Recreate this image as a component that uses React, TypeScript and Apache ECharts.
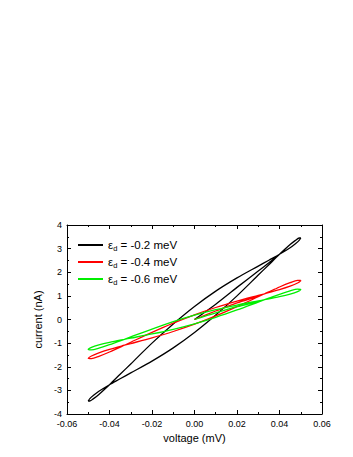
import React, { useEffect, useRef } from "react";
import * as echarts from "echarts";

const epsValues = ["-0.2", "-0.4", "-0.6"];
const seriesColors = ["#000000", "#ff0000", "#00ee00"];

// [voltage (mV), current (nA)]
const blackLoop: number[][] = [
  [0, 0], [0.01, 0.65], [0.02, 1.36], [0.03, 2.05], [0.035, 2.4], [0.04, 2.76],
  [0.045, 3.17], [0.0475, 3.35], [0.04925, 3.45], [0.05, 3.45],
  [0.04925, 3.35], [0.0475, 3.21], [0.045, 3.04], [0.04, 2.76], [0.035, 2.51], [0.03, 2.26],
  [0.02, 1.76], [0.01, 1.2], [0, 0.55], [-0.01, -0.19], [-0.02, -1.0], [-0.03, -1.88],
  [-0.035, -2.32], [-0.04, -2.76], [-0.045, -3.17], [-0.0475, -3.35], [-0.04925, -3.45], [-0.05, -3.45],
  [-0.04925, -3.35], [-0.0475, -3.21], [-0.045, -3.04], [-0.04, -2.76], [-0.035, -2.51], [-0.03, -2.26],
  [-0.02, -1.76], [-0.01, -1.2], [0, -0.55], [0.01, 0.19], [0.02, 1.0], [0.03, 1.88],
  [0.035, 2.32], [0.04, 2.76], [0.045, 3.17], [0.0475, 3.35], [0.04925, 3.45], [0.05, 3.45],
];

const redLoop: number[][] = [
  [0, 0], [0.01, 0.36], [0.02, 0.7], [0.03, 0.98], [0.033, 1.089],
  [0.04, 1.376], [0.045, 1.56], [0.0485, 1.656], [0.05, 1.65],
  [0.0485, 1.544], [0.045, 1.41], [0.04, 1.264], [0.033, 1.089], [0.03, 1.018], [0.02, 0.776],
  [0.01, 0.508], [0, 0.2], [-0.01, -0.152], [-0.02, -0.544], [-0.03, -0.962], [-0.033, -1.089],
  [-0.04, -1.376], [-0.045, -1.56], [-0.0485, -1.656], [-0.05, -1.65],
  [-0.0485, -1.544], [-0.045, -1.41], [-0.04, -1.264], [-0.033, -1.089], [-0.03, -1.018], [-0.02, -0.776],
  [-0.01, -0.508], [0, -0.2], [0.01, 0.152], [0.02, 0.544], [0.03, 0.962], [0.033, 1.089],
  [0.04, 1.376], [0.045, 1.56], [0.0485, 1.656], [0.05, 1.65],
];

const greenLoop: number[][] = [
  [0, 0], [0.01, 0.28], [0.02, 0.54], [0.03, 0.76], [0.033, 0.838],
  [0.04, 1.067], [0.045, 1.211], [0.0485, 1.283], [0.05, 1.27],
  [0.0485, 1.181], [0.045, 1.075], [0.04, 0.965], [0.033, 0.838], [0.03, 0.787], [0.02, 0.612],
  [0.01, 0.414], [0, 0.18], [-0.01, -0.094], [-0.02, -0.404], [-0.03, -0.737], [-0.033, -0.838],
  [-0.04, -1.067], [-0.045, -1.211], [-0.0485, -1.283], [-0.05, -1.27],
  [-0.0485, -1.181], [-0.045, -1.075], [-0.04, -0.965], [-0.033, -0.838], [-0.03, -0.787], [-0.02, -0.612],
  [-0.01, -0.414], [0, -0.18], [0.01, 0.094], [0.02, 0.404], [0.03, 0.737], [0.033, 0.838],
  [0.04, 1.067], [0.045, 1.211], [0.0485, 1.283], [0.05, 1.27],
];

const loops = [blackLoop, redLoop, greenLoop];

const FONT = "Liberation Sans, Arial, sans-serif";

export default function App() {
  const ref = useRef<HTMLDivElement>(null);
  useEffect(() => {
    if (!ref.current) return;
    const chart = echarts.init(ref.current, undefined, { renderer: "svg" });
    const axisCommon = {
      type: "value" as const,
      axisLine: { show: true, onZero: false, lineStyle: { color: "#000", width: 1 } },
      axisTick: { show: true, inside: true, length: 4, lineStyle: { color: "#000" } },
      minorTick: { show: true, splitNumber: 2, length: 2, lineStyle: { color: "#000" } },
      splitLine: { show: false },
    };
    chart.setOption({
      animation: false,
      backgroundColor: "#fff",
      grid: { left: 67, right: 31, top: 225, bottom: 43, containLabel: false },
      legend: {
        show: true,
        orient: "vertical",
        left: 78,
        top: 237,
        padding: 0,
        icon: "rect",
        itemWidth: 25,
        itemHeight: 2,
        itemGap: 2,
        data: epsValues.map((e) => e),
        formatter: (name: string) => `{eps|ε}{sub|d}{t| = ${name} meV}`,
        textStyle: {
          fontFamily: FONT,
          fontSize: 11.5,
          color: "#000",
          lineHeight: 14,
          rich: {
            eps: { fontFamily: FONT, fontSize: 11.5, color: "#000", lineHeight: 14 },
            sub: { fontFamily: FONT, fontSize: 7.5, color: "#000", verticalAlign: "bottom", lineHeight: 14, padding: [7, 0, 0, 0] },
            t: { fontFamily: FONT, fontSize: 11.5, color: "#000", lineHeight: 14 },
          },
        },
      },
      xAxis: [
        {
          ...axisCommon,
          position: "bottom",
          min: -0.06,
          max: 0.06,
          interval: 0.02,
          name: "voltage (mV)",
          nameLocation: "middle",
          nameGap: 18,
          nameTextStyle: { fontFamily: FONT, fontSize: 11, color: "#000" },
          axisLabel: {
            fontFamily: FONT,
            fontSize: 9,
            color: "#000",
            margin: 5,
            formatter: (v: number) => v.toFixed(2),
          },
        },
        {
          ...axisCommon,
          position: "top",
          min: -0.06,
          max: 0.06,
          interval: 0.02,
          axisLabel: { show: false },
        },
      ],
      yAxis: [
        {
          ...axisCommon,
          position: "left",
          min: -4,
          max: 4,
          interval: 1,
          name: "current (nA)",
          nameLocation: "middle",
          nameGap: 21,
          nameTextStyle: { fontFamily: FONT, fontSize: 11, color: "#000" },
          axisLabel: { fontFamily: FONT, fontSize: 9, color: "#000", margin: 5 },
        },
        {
          ...axisCommon,
          position: "right",
          min: -4,
          max: 4,
          interval: 1,
          axisLabel: { show: false },
        },
      ],
      series: loops.map((d, k) => ({
        type: "line",
        name: epsValues[k],
        data: d,
        xAxisIndex: 0,
        yAxisIndex: 0,
        symbol: "none",
        smooth: 0.3,
        lineStyle: { color: seriesColors[k], width: 1.3 },
        itemStyle: { color: seriesColors[k] },
        z: 2 + k,
      })),
    });
    return () => chart.dispose();
  }, []);
  return (
    <div
      ref={ref}
      style={{ position: "fixed", left: 0, top: 0, width: 353, height: 457 }}
    />
  );
}
